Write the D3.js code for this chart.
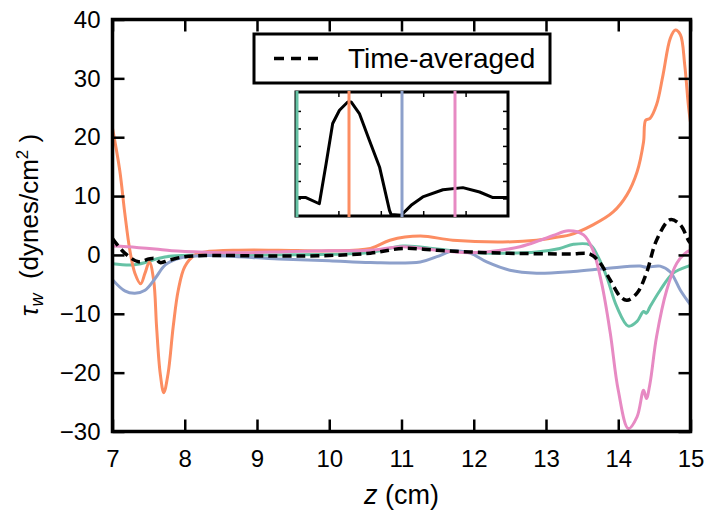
<!DOCTYPE html>
<html>
<head>
<meta charset="utf-8">
<script src="https://cdn.jsdelivr.net/npm/d3@7"></script>
<style>
  html, body { margin: 0; padding: 0; background: #fff; }
  svg { display: block; font-family: "Liberation Sans", Arial, Helvetica, sans-serif; }
</style>
</head>
<body>
<svg id="chart" width="714" height="521"></svg>
<script>
// ---- data ----
const xTicks = [7, 8, 9, 10, 11, 12, 13, 14, 15];
const yTicks = [-30, -20, -10, 0, 10, 20, 30, 40];

const greenZ = [7.0, 7.27, 7.45, 7.63, 7.82, 8.28, 9.0, 10.0, 10.57, 11.02, 11.49, 11.94, 12.4, 12.87, 13.19, 13.38, 13.61, 13.72, 13.84, 13.98, 14.14, 14.26, 14.35, 14.39, 14.44, 14.58, 14.76, 14.97, 15.0];
const greenV = [-1.5, -1.7, -1.3, -0.6, -0.2, 0.0, 0.0, 0.1, 0.4, 1.5, 1.0, 0.4, 0.3, 0.5, 1.1, 1.8, 1.7, -0.3, -3.7, -8.8, -12.1, -11.3, -9.6, -9.9, -8.8, -6.0, -3.1, -1.9, -1.8];

const orangeZ = [7.0, 7.10, 7.17, 7.24, 7.31, 7.39, 7.45, 7.51, 7.57, 7.61, 7.66, 7.71, 7.77, 7.84, 7.91, 8.0, 8.14, 8.28, 8.74, 9.3, 10.0, 10.57, 10.84, 11.26, 11.71, 12.4, 12.87, 13.19, 13.33, 13.65, 13.93, 14.12, 14.26, 14.35, 14.38, 14.44, 14.53, 14.62, 14.72, 14.79, 14.86, 14.92, 14.97, 15.0];
const orangeV = [21.5, 14.4, 7.1, 0.8, -3.1, -4.9, -3.1, -1.2, -4.3, -12.2, -20.1, -23.4, -20.1, -12.2, -6.0, -2.0, 0.0, 0.5, 0.8, 0.8, 0.7, 1.1, 2.5, 3.2, 2.5, 2.2, 2.5, 3.1, 3.4, 5.1, 7.3, 10.2, 14.1, 19.2, 22.9, 23.2, 25.5, 30.6, 36.8, 38.2, 37.4, 32.3, 25.5, 22.5];

const blueZ = [7.0, 7.17, 7.31, 7.45, 7.59, 7.73, 7.91, 8.28, 9.3, 10.0, 10.57, 11.26, 11.49, 11.72, 11.95, 12.18, 12.5, 12.87, 13.38, 13.84, 14.30, 14.39, 14.58, 14.72, 14.86, 15.0];
const blueV = [-4.2, -6.1, -6.5, -6.0, -4.0, -1.7, -0.6, -0.1, -0.7, -1.0, -1.3, -1.2, -0.3, 0.7, 0.3, -1.2, -2.6, -3.1, -2.8, -2.3, -1.9, -2.1, -1.9, -2.9, -6.0, -8.5];

const pinkZ = [7.0, 7.2, 7.59, 7.82, 8.28, 8.74, 9.5, 10.0, 10.57, 11.02, 11.49, 11.85, 12.17, 12.64, 12.92, 13.10, 13.31, 13.52, 13.65, 13.77, 13.89, 14.0, 14.14, 14.26, 14.35, 14.39, 14.44, 14.53, 14.67, 14.81, 14.95, 15.0];
const pinkV = [1.5, 1.4, 1.0, 0.7, 0.45, 0.35, 0.6, 0.7, 0.8, 1.4, 0.8, 0.4, 0.5, 1.4, 2.5, 3.3, 4.1, 3.4, 0.8, -4.8, -13.3, -23.0, -29.5, -27.5, -23.0, -24.4, -21.8, -13.9, -6.0, -1.4, 0.5, 0.8];

const avgZ = [7.0, 7.17, 7.36, 7.50, 7.59, 7.66, 7.78, 8.0, 8.28, 9.3, 10.0, 10.57, 11.02, 11.49, 11.95, 12.4, 13.33, 13.61, 13.75, 13.89, 14.03, 14.12, 14.26, 14.39, 14.53, 14.72, 14.86, 14.97, 15.0];
const avgV = [2.8, 0.3, -1.15, -0.7, -0.6, -1.3, -0.9, -0.3, -0.1, -0.2, -0.1, 0.3, 1.1, 0.8, 0.5, 0.3, 0.15, 0.15, -1.4, -4.3, -7.1, -7.7, -6.5, -3.1, 2.5, 6.0, 5.1, 2.5, 2.0];

const legendLabel = "Time-averaged";

// inset: flow waveform over one cycle
const insetT = [0.0, 0.047, 0.11, 0.142, 0.173, 0.205, 0.244, 0.26, 0.299, 0.346, 0.394, 0.441, 0.449, 0.496, 0.543, 0.598, 0.693, 0.787, 0.866, 0.929, 1.0];
const insetQ = [1.05, 1.05, 0.70, 2.99, 5.28, 6.04, 6.51, 6.51, 5.85, 4.32, 2.80, 0.32, 0.08, 0.04, 0.61, 1.09, 1.50, 1.62, 1.37, 1.05, 1.05];
const insetMarks = [0.0, 0.25, 0.5, 0.75];
const insetXTicks = [0.2, 0.4, 0.6, 0.8];
const insetYTicks = [1, 2, 3, 4, 5, 6];

const colors = { green: "#66c2a5", orange: "#fc8d62", blue: "#8da0cb", pink: "#e78ac3" };
const markColors = [colors.green, colors.orange, colors.blue, colors.pink];

// ---- layout ----
const svg = d3.select("#chart");
const L = 112.5, R = 690.5, T = 19.5, B = 431.5;
const x = d3.scaleLinear().domain([7, 15]).range([L, R]);
const y = d3.scaleLinear().domain([-30, 40]).range([B, T]);

const clipId = "plotclip";
svg.append("defs").append("clipPath").attr("id", clipId)
  .append("rect").attr("x", L).attr("y", T).attr("width", R - L).attr("height", B - T);

const line = d3.line().x(d => x(d[0])).y(d => y(d[1])).curve(d3.curveCatmullRom.alpha(0.5));
const zip = (a, b) => a.map((v, i) => [v, b[i]]);

const plot = svg.append("g").attr("clip-path", `url(#${clipId})`);
const series = [
  { z: greenZ, v: greenV, c: colors.green },
  { z: orangeZ, v: orangeV, c: colors.orange },
  { z: blueZ, v: blueV, c: colors.blue },
  { z: pinkZ, v: pinkV, c: colors.pink }
];
series.forEach(s => {
  plot.append("path").datum(zip(s.z, s.v))
    .attr("fill", "none").attr("stroke", s.c).attr("stroke-width", 3)
    .attr("stroke-linejoin", "round").attr("d", line);
});
plot.append("path").datum(zip(avgZ, avgV))
  .attr("fill", "none").attr("stroke", "#000").attr("stroke-width", 3.5)
  .attr("stroke-dasharray", "9,5").attr("d", line);

// ---- axes ----
const tickLen = 12;
function styleAxis(g) {
  g.select(".domain").remove();
  g.selectAll(".tick line").attr("stroke", "#000").attr("stroke-width", 2.5);
  g.selectAll(".tick text").attr("fill", "#000").style("font-size", "24px");
}
svg.append("g").attr("transform", `translate(0,${B})`)
  .call(d3.axisBottom(x).tickValues(xTicks).tickSize(-tickLen).tickPadding(18).tickFormat(d3.format("d")))
  .call(styleAxis);
svg.append("g").attr("transform", `translate(0,${T})`)
  .call(d3.axisTop(x).tickValues(xTicks).tickSize(-tickLen).tickFormat(() => ""))
  .call(styleAxis);
svg.append("g").attr("transform", `translate(${L},0)`)
  .call(d3.axisLeft(y).tickValues(yTicks).tickSize(-tickLen).tickPadding(12).tickFormat(d => d < 0 ? "\u2212" + Math.abs(d) : String(d)))
  .call(styleAxis);
svg.append("g").attr("transform", `translate(${R},0)`)
  .call(d3.axisRight(y).tickValues(yTicks).tickSize(-tickLen).tickFormat(() => ""))
  .call(styleAxis);

// ---- frame ----
svg.append("rect").attr("x", L).attr("y", T).attr("width", R - L).attr("height", B - T)
  .attr("fill", "none").attr("stroke", "#000").attr("stroke-width", 3.5);

// axis titles
const xt = svg.append("text").attr("x", (L + R) / 2).attr("y", 504)
  .attr("text-anchor", "middle").style("font-size", "27px").attr("fill", "#000");
xt.append("tspan").style("font-style", "italic").text("z");
xt.append("tspan").text(" (cm)");

const yt = svg.append("text").attr("transform", "translate(38,225) rotate(-90)")
  .attr("text-anchor", "middle").style("font-size", "26px").attr("fill", "#000");
yt.append("tspan").style("font-style", "italic").text("\u03C4");
yt.append("tspan").style("font-style", "italic").style("font-size", "18px").attr("dy", 5).text("w");
yt.append("tspan").attr("dy", -5).text("\u00A0\u00A0(dynes/cm");
yt.append("tspan").style("font-size", "17px").attr("dy", -10).text("2");
yt.append("tspan").attr("dy", 10).text("\u00A0)");

// ---- legend ----
const lg = svg.append("g");
lg.append("rect").attr("x", 254).attr("y", 34).attr("width", 296).attr("height", 49)
  .attr("fill", "#fff").attr("stroke", "#000").attr("stroke-width", 3);
lg.append("line").attr("x1", 274).attr("x2", 318).attr("y1", 58.5).attr("y2", 58.5)
  .attr("stroke", "#000").attr("stroke-width", 3.5).attr("stroke-dasharray", "10,7");
lg.append("text").attr("x", 348).attr("y", 68).style("font-size", "28px").attr("fill", "#000").text(legendLabel);

// ---- inset ----
const iL = 296, iR = 508, iT = 92, iB = 216;
const ix = d3.scaleLinear().domain([0, 1]).range([iL, iR]);
const iy = d3.scaleLinear().domain([0, 7.08]).range([iB, iT]);
const ins = svg.append("g");
ins.append("rect").attr("x", iL).attr("y", iT).attr("width", iR - iL).attr("height", iB - iT).attr("fill", "#fff");
const iTick = 5;
function styleInset(g) {
  g.select(".domain").remove();
  g.selectAll(".tick line").attr("stroke", "#000").attr("stroke-width", 1.5);
}
ins.append("g").attr("transform", `translate(0,${iB})`).call(d3.axisBottom(ix).tickValues(insetXTicks).tickSize(-iTick).tickFormat(() => "")).call(styleInset);
ins.append("g").attr("transform", `translate(0,${iT})`).call(d3.axisTop(ix).tickValues(insetXTicks).tickSize(-iTick).tickFormat(() => "")).call(styleInset);
ins.append("g").attr("transform", `translate(${iL},0)`).call(d3.axisLeft(iy).tickValues(insetYTicks).tickSize(-iTick).tickFormat(() => "")).call(styleInset);
ins.append("g").attr("transform", `translate(${iR},0)`).call(d3.axisRight(iy).tickValues(insetYTicks).tickSize(-iTick).tickFormat(() => "")).call(styleInset);

ins.append("path").datum(zip(insetT, insetQ))
  .attr("fill", "none").attr("stroke", "#000").attr("stroke-width", 3).attr("stroke-linejoin", "round")
  .attr("d", d3.line().x(d => ix(d[0])).y(d => iy(d[1])));
ins.append("rect").attr("x", iL).attr("y", iT).attr("width", iR - iL).attr("height", iB - iT)
  .attr("fill", "none").attr("stroke", "#000").attr("stroke-width", 3);
insetMarks.forEach((t, i) => {
  const px = ix(t) + (i === 0 ? 1 : 0);
  ins.append("line").attr("x1", px).attr("x2", px)
    .attr("y1", iT - 1).attr("y2", iB + 1).attr("stroke", markColors[i]).attr("stroke-width", 3);
});
</script>
</body>
</html>
